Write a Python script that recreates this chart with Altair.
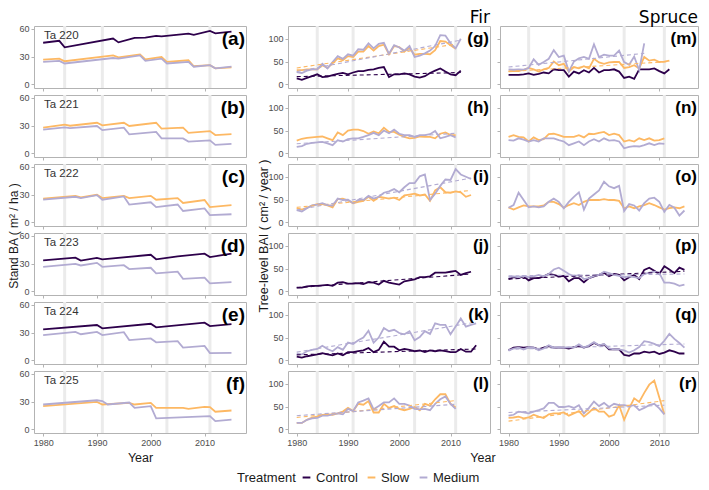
import altair as alt
import pandas as pd

TREATMENTS = ["Control", "Slow", "Medium"]
COLORS = ["#2d004b", "#fdb863", "#b2abd2"]
THIN_YEARS = [1984, 1991, 2003, 2011]
X_TICKS = [1980, 1990, 2000, 2010]
PLOT_NAMES = ["Ta 220", "Ta 221", "Ta 222", "Ta 223", "Ta 224", "Ta 225"]
TAGS1 = ["(a)", "(b)", "(c)", "(d)", "(e)", "(f)"]
TAGS2 = ["(g)", "(h)", "(i)", "(j)", "(k)", "(l)"]
TAGS3 = ["(m)", "(n)", "(o)", "(p)", "(q)", "(r)"]

# ---------------- Stand BA (breakpoints: year, value) ----------------
A_YRS_C = [1980, 1983, 1984, 1993, 1994, 1997, 1999, 2001, 2002, 2007, 2008, 2011, 2012, 2015]
A_CTRL = [44.9, 47.0, 40.0, 49.5, 45.3, 50.2, 50.5, 52.3, 51.8, 54.8, 53.4, 57.6, 55.0, 57.0]
A_YRS_T = [1980, 1983, 1984, 1993, 1994, 1998, 1999, 2002, 2003, 2007, 2008, 2011, 2012, 2015]
A_SLOW = [26.7, 27.7, 24.9, 31.2, 29.1, 32.3, 27.0, 29.5, 24.2, 26.0, 19.5, 20.7, 17.2, 18.3]
A_MED = [24.2, 25.3, 22.5, 28.4, 27.7, 31.2, 25.3, 27.7, 22.5, 24.2, 19.0, 20.7, 17.2, 19.0]

B_YRS = [1980, 1984, 1985, 1990, 1991, 1995, 1996, 2001, 2002, 2006, 2007, 2011, 2012, 2015]
B_SLOW = [27.7, 30.9, 29.8, 33.0, 30.2, 33.0, 29.5, 33.0, 26.7, 27.7, 22.1, 24.0, 19.7, 20.7]
B_MED = [25.6, 28.0, 27.3, 29.5, 25.0, 27.7, 20.4, 23.2, 16.1, 16.1, 12.6, 14.0, 9.1, 10.2]

C_YRS = [1980, 1986, 1987, 1990, 1991, 1995, 1996, 2000, 2001, 2005, 2006, 2010, 2011, 2015]
C_SLOW = [25.5, 28.6, 26.9, 29.7, 26.2, 28.6, 26.2, 28.6, 24.4, 26.2, 20.9, 24.1, 16.4, 18.5]
C_MED = [24.4, 27.6, 26.2, 29.3, 24.4, 27.9, 19.2, 21.6, 16.4, 19.2, 12.2, 15.0, 7.7, 8.7]

D_YRS_C = [1980, 1986, 1987, 1990, 1991, 2000, 2001, 2005, 2010, 2011, 2015]
D_CTRL = [33.5, 36.4, 33.2, 36.0, 34.6, 39.5, 34.6, 37.8, 40.6, 37.0, 40.6]
D_YRS_M = [1980, 1986, 1987, 1990, 1991, 1995, 1996, 2000, 2001, 2005, 2006, 2010, 2011, 2015]
D_MED = [26.5, 29.7, 27.9, 30.7, 26.5, 28.2, 24.0, 25.4, 19.4, 21.2, 13.4, 14.8, 8.5, 9.9]

E_YRS_C = [1980, 1990, 1991, 2000, 2001, 2010, 2011, 2015]
E_CTRL = [33.5, 38.1, 34.6, 39.5, 35.6, 40.6, 37.0, 39.2]
E_YRS_M = [1980, 1986, 1987, 1990, 1991, 1995, 1996, 2000, 2001, 2005, 2006, 2010, 2011, 2015]
E_MED = [27.2, 30.7, 28.2, 30.7, 27.2, 30.4, 21.9, 23.6, 19.4, 20.8, 13.8, 15.5, 7.8, 8.1]

F_YRS_S = [1980, 1990, 1991, 1996, 1997, 2000, 2001, 2006, 2007, 2010, 2011, 2012, 2015]
F_SLOW = [25.0, 29.6, 26.8, 28.6, 26.8, 28.6, 23.2, 23.2, 22.0, 24.3, 24.0, 19.0, 20.3]
F_YRS_M = [1980, 1990, 1991, 1992, 1996, 1997, 2000, 2001, 2011, 2012, 2015]
F_MED = [26.8, 31.4, 30.5, 26.8, 28.9, 23.2, 25.0, 11.8, 14.3, 8.9, 10.4]

# ---------------- Fir tree-level BAI (annual from 1980) ----------------
G_CTRL = [13, 10, 14, 18, 22, 16, 17, 20, 23, 25, 22, 26, 29, 29, 32, 33, 36, 38, 16, 22,
          22, 24, 22, 17, 15, 18, 25, 30, 35, 28, 22, 20, 30]
G_SLOW = [31, 31, 33, 33, 33, 42, 36, 46, 57, 53, 62, 60, 72, 72, 84, 74, 84, 87, 66, 84,
          82, 72, 80, 65, 67, 67, 66, 75, 95, 94, 86, 78]
G_MED = [27, 25, 30, 33, 33, 45, 35, 49, 62, 56, 66, 63, 77, 76, 90, 79, 89, 91, 67, 86,
         81, 74, 84, 60, 63, 68, 74, 84, 108, 107, 90, 79, 100]
H_SLOW = [28, 32, 34, 35, 36, 37, 33, 29, 46, 40, 50, 52, 52, 49, 43, 48, 44, 56, 47, 47,
          41, 36, 33, 34, 37, 36, 36, 33, 43, 46, 40, 40]
H_MED = [14, 16, 21, 23, 24, 25, 22, 18, 29, 26, 31, 33, 33, 36, 40, 45, 40, 50, 44, 52,
         43, 40, 40, 36, 40, 40, 42, 49, 33, 36, 40, 35]
I_SLOW = [31, 28, 32, 37, 40, 40, 37, 33, 51, 52, 48, 42, 45, 47, 56, 47, 56, 54, 52, 54,
          49, 59, 61, 63, 59, 61, 47, 70, 77, 66, 65, 68, 66, 56, 60]
I_MED = [27, 24, 31, 37, 39, 42, 38, 37, 52, 49, 50, 42, 49, 49, 58, 52, 56, 65, 68, 73,
         66, 77, 86, 86, 101, 105, 49, 63, 80, 94, 93, 117, 105, 100, 95]
J_CTRL = [8, 8, 11, 12, 12, 13, 14, 12, 19, 20, 17, 17, 18, 16, 20, 19, 15, 23, 19, 17,
          15, 22, 24, 26, 31, 31, 33, 41, 41, 41, 43, 45, 36, 40, 43]
K_CTRL = [8, 6, 9, 11, 13, 16, 13, 11, 15, 11, 18, 18, 20, 22, 27, 18, 23, 41, 30, 30,
          22, 25, 23, 20, 22, 18, 22, 20, 22, 20, 18, 18, 25, 19, 19, 33]
K_MED = [15, 13, 20, 23, 25, 32, 25, 20, 29, 23, 39, 36, 44, 50, 65, 39, 50, 71, 64, 67,
         60, 57, 64, 44, 51, 64, 58, 81, 78, 78, 57, 74, 92, 74, 78, 81]
L_SLOW = [14, 14, 21, 26, 28, 32, 33, 32, 35, 39, 47, 40, 56, 54, 62, 37, 37, 56, 47, 51,
          45, 42, 45, 49, 42, 56, 52, 66, 77, 77, 56, 48]
L_MED = [14, 14, 21, 24, 25, 30, 30, 33, 35, 33, 45, 40, 59, 63, 68, 44, 51, 59, 59, 68,
         56, 56, 52, 45, 44, 45, 42, 56, 66, 72, 56, 45]

# ---------------- Spruce tree-level BAI (annual from 1980) ----------------
M_CTRL = [21, 21, 21, 22, 24, 21, 23, 26, 24, 33, 31, 31, 17, 28, 24, 31, 26, 36, 26, 31,
          31, 33, 28, 14, 17, 12, 33, 33, 33, 35, 29, 24, 33]
M_SLOW = [29, 29, 29, 32, 36, 33, 28, 33, 36, 50, 42, 45, 28, 38, 35, 40, 35, 56, 48, 45,
          48, 49, 49, 36, 38, 42, 35, 60, 52, 54, 49, 50, 52]
M_MED = [33, 32, 33, 32, 36, 55, 43, 49, 56, 75, 60, 63, 28, 50, 57, 60, 56, 88, 60, 65,
         63, 63, 74, 49, 43, 61, 31, 90]
N_SLOW = [36, 40, 36, 35, 26, 35, 29, 31, 42, 43, 40, 36, 36, 36, 40, 35, 43, 42, 45, 47,
          40, 43, 40, 26, 29, 26, 33, 29, 33, 28, 29, 33]
N_MED = [29, 28, 33, 30, 26, 29, 26, 33, 33, 33, 29, 26, 18, 22, 26, 18, 26, 31, 26, 33,
         28, 29, 26, 11, 14, 16, 15, 18, 22, 18, 22, 21]
O_SLOW = [33, 28, 33, 37, 35, 35, 35, 37, 45, 45, 40, 32, 38, 42, 38, 45, 49, 49, 49, 51,
          49, 49, 47, 31, 35, 31, 35, 38, 42, 38, 33, 28, 31, 33, 31, 35]
O_MED = [32, 38, 65, 49, 33, 35, 33, 35, 45, 52, 45, 31, 45, 56, 66, 28, 52, 61, 70, 89,
         79, 75, 80, 25, 40, 37, 26, 42, 52, 54, 45, 23, 38, 32, 15, 26]
P_CTRL = [27, 31, 29, 33, 24, 29, 29, 33, 38, 36, 33, 34, 22, 29, 29, 20, 29, 33, 36, 41,
          33, 38, 36, 24, 31, 36, 27, 47, 52, 45, 38, 55, 48, 40, 52, 47]
P_MED = [31, 33, 31, 34, 31, 33, 36, 33, 38, 48, 52, 45, 38, 33, 36, 27, 29, 34, 36, 43,
         40, 36, 34, 31, 33, 31, 29, 38, 41, 43, 40, 19, 19, 17, 12, 15]
Q_CTRL = [22, 28, 29, 28, 29, 28, 24, 28, 31, 28, 28, 28, 26, 29, 31, 28, 31, 38, 33, 35,
          24, 24, 24, 12, 10, 15, 15, 19, 17, 19, 14, 17, 22, 19, 15, 15]
Q_MED = [21, 26, 28, 24, 29, 28, 22, 26, 33, 28, 29, 28, 29, 28, 35, 28, 33, 40, 33, 36,
         26, 24, 24, 22, 17, 22, 29, 42, 40, 36, 31, 43, 58, 47, 38, 28]
R_SLOW = [25, 26, 28, 24, 26, 32, 28, 25, 33, 35, 35, 37, 30, 35, 40, 28, 37, 47, 39, 39,
          28, 32, 53, 21, 46, 68, 60, 80, 98, 107, 70, 33]
R_MED = [30, 32, 39, 37, 35, 39, 42, 46, 58, 58, 49, 49, 51, 47, 53, 35, 47, 61, 51, 58,
         49, 56, 53, 53, 51, 53, 42, 47, 53, 56, 46, 33]

# ---------------- dashed trend lines: (treatment, [start, end year], [start, end value]) ----------------
TRENDS = {
    "g": [("Control", [1980, 2012], [17, 26]), ("Slow", [1980, 2011], [36, 88]), ("Medium", [1980, 2012], [28, 97])],
    "h": [("Medium", [1980, 2011], [21, 44])],
    "i": [("Slow", [1980, 2014], [33, 70]), ("Medium", [1980, 2014], [27, 97])],
    "j": [("Control", [1980, 2014], [8, 38])],
    "k": [("Control", [1980, 2015], [12, 25]), ("Medium", [1980, 2015], [18, 84])],
    "l": [("Slow", [1980, 2011], [26, 63]), ("Medium", [1980, 2011], [30, 55])],
    "m": [("Slow", [1980, 2012], [28, 50]), ("Medium", [1980, 2007], [38, 68])],
    "n": [],
    "o": [],
    "p": [("Control", [1980, 2015], [27, 44]), ("Medium", [1980, 2015], [34, 38])],
    "q": [("Medium", [1980, 2015], [24, 36])],
    "r": [("Slow", [1980, 2011], [18, 63]), ("Medium", [1980, 2011], [37, 53])],
}

W1, W2, W3 = 212, 202, 198
H = 62
VS = 1

XSCALE = alt.Scale(domain=[1978.3, 2017.7], nice=False, zero=False)

LEGEND = alt.Legend(
    title="Treatment", orient="none", legendX=203, legendY=445, direction="horizontal",
    titleOrient="left", titleFontSize=13, titleFontWeight="normal", titleColor="#1a1a1a",
    titleFont="Liberation Sans", labelFont="Liberation Sans", gridAlign="none",
    labelFontSize=13, labelColor="#1a1a1a", symbolType="stroke", symbolStrokeWidth=2,
    symbolSize=60, labelOffset=3, columnPadding=5, titlePadding=4,
)
COLOR = alt.Color("treatment:N", scale=alt.Scale(domain=TREATMENTS, range=COLORS), legend=LEGEND)


def annual(vals):
    return list(range(1980, 1980 + len(vals)))


def panel(col, series, trends, tag, ta=None, bottom=False, top=None):
    w = [W1, W2, W3][col]
    if col == 0:
        ydom, yt = [-4, 63], [0, 30, 60]
    else:
        ydom, yt = [-8, 128], [0, 50, 100]
    rows = []
    for tr, yrs, vals in series:
        rows += [{"treatment": tr, "year": yy, "value": v} for yy, v in zip(yrs, vals)]
    df = pd.DataFrame(rows)
    if bottom and col == 0:
        xax = alt.Axis(values=X_TICKS, labels=True, format="d", labelFlush=False, title="Year")
    else:
        xax = alt.Axis(values=X_TICKS, labels=bottom, format="d", labelFlush=False, title=None)
    yax = alt.Axis(values=yt, labels=(col != 2), title=None, labelFlush=False)
    x = alt.X("year:Q", scale=XSCALE, axis=xax)
    y = alt.Y("value:Q", scale=alt.Scale(domain=ydom, nice=False, zero=False), axis=yax)
    layers = [
        alt.Chart(pd.DataFrame({"year": THIN_YEARS})).mark_rule(color="#ebebeb", strokeWidth=3).encode(x=x),
        alt.Chart(df).mark_line(strokeWidth=1.8).encode(x=x, y=y, color=COLOR),
    ]
    if trends:
        trows = []
        for tr, yrs, vals in trends:
            trows += [{"treatment": tr, "year": yy, "value": v} for yy, v in zip(yrs, vals)]
        layers.append(
            alt.Chart(pd.DataFrame(trows)).mark_line(strokeWidth=1.1, strokeDash=[4, 3]).encode(x=x, y=y, color=COLOR)
        )
    layers.append(
        alt.Chart(pd.DataFrame({"t": [tag]})).mark_text(
            align="right", baseline="middle", fontSize=19 if col == 0 else 17, fontWeight="bold",
            font="Liberation Sans", color="black"
        ).encode(x=alt.value(w - 1), y=alt.value(13), text="t:N")
    )
    if ta:
        layers.append(
            alt.Chart(pd.DataFrame({"t": [ta]})).mark_text(
                align="left", baseline="middle", fontSize=11.5, font="Liberation Sans", color="#333333"
            ).encode(x=alt.value(10), y=alt.value(10), text="t:N")
        )
    ch = alt.layer(*layers).properties(width=w, height=H)
    if top is not None:
        ch = ch.properties(title=top)
    return ch


def top_title(text, color="black"):
    return alt.TitleParams(text, anchor="end", frame="group", fontSize=17, font="DejaVu Sans",
                           fontWeight="normal", offset=-2, color=color)


C, S, M = TREATMENTS
col1_series = [
    [(C, A_YRS_C, A_CTRL), (S, A_YRS_T, A_SLOW), (M, A_YRS_T, A_MED)],
    [(S, B_YRS, B_SLOW), (M, B_YRS, B_MED)],
    [(S, C_YRS, C_SLOW), (M, C_YRS, C_MED)],
    [(C, D_YRS_C, D_CTRL), (M, D_YRS_M, D_MED)],
    [(C, E_YRS_C, E_CTRL), (M, E_YRS_M, E_MED)],
    [(S, F_YRS_S, F_SLOW), (M, F_YRS_M, F_MED)],
]
col2_series = [
    [(C, annual(G_CTRL), G_CTRL), (S, annual(G_SLOW), G_SLOW), (M, annual(G_MED), G_MED)],
    [(S, annual(H_SLOW), H_SLOW), (M, annual(H_MED), H_MED)],
    [(S, annual(I_SLOW), I_SLOW), (M, annual(I_MED), I_MED)],
    [(C, annual(J_CTRL), J_CTRL)],
    [(C, annual(K_CTRL), K_CTRL), (M, annual(K_MED), K_MED)],
    [(S, annual(L_SLOW), L_SLOW), (M, annual(L_MED), L_MED)],
]
col3_series = [
    [(C, annual(M_CTRL), M_CTRL), (S, annual(M_SLOW), M_SLOW), (M, annual(M_MED), M_MED)],
    [(S, annual(N_SLOW), N_SLOW), (M, annual(N_MED), N_MED)],
    [(S, annual(O_SLOW), O_SLOW), (M, annual(O_MED), O_MED)],
    [(C, annual(P_CTRL), P_CTRL), (M, annual(P_MED), P_MED)],
    [(C, annual(Q_CTRL), Q_CTRL), (M, annual(Q_MED), Q_MED)],
    [(S, annual(R_SLOW), R_SLOW), (M, annual(R_MED), R_MED)],
]

p1, p2, p3 = [], [], []
for i in range(6):
    last = i == 5
    p1.append(panel(0, col1_series[i], [], TAGS1[i], ta=PLOT_NAMES[i], bottom=last,
                    top=top_title(" ", "white") if i == 0 else None))
    p2.append(panel(1, col2_series[i], TRENDS[TAGS2[i][1]], TAGS2[i], bottom=last,
                    top=top_title("Fir") if i == 0 else None))
    p3.append(panel(2, col3_series[i], TRENDS[TAGS3[i][1]], TAGS3[i], bottom=last,
                    top=top_title("Spruce") if i == 0 else None))

col1 = alt.vconcat(*p1, spacing=VS, title=alt.TitleParams(
    "Stand BA ( m² / ha )", orient="left", anchor="middle", fontSize=12, fontWeight="normal",
    font="Liberation Sans", offset=-3, color="#1a1a1a"))
col2 = alt.vconcat(*p2, spacing=VS)
col3 = alt.vconcat(*p3, spacing=VS)
right = alt.hconcat(col2, col3, spacing=5, title=alt.TitleParams(
    "Year", orient="bottom", anchor="middle", fontSize=12.5, fontWeight="normal",
    font="Liberation Sans", offset=4, color="#1a1a1a"))
right2 = alt.vconcat(right, title=alt.TitleParams(
    "Tree-level BAI ( cm² / year )", orient="left", anchor="middle", fontSize=12.5,
    fontWeight="normal", font="Liberation Sans", offset=-3, color="#1a1a1a"))

chart = alt.hconcat(col1, right2, spacing=10, padding=0).configure(
    font="Liberation Sans"
).configure_view(
    stroke="#b3b3b3", strokeWidth=1
).configure_axis(
    grid=False, domain=False, tickColor="#b3b3b3", tickSize=3, labelColor="#4d4d4d",
    labelFontSize=9, labelPadding=2, titleFontSize=12.5, titleFontWeight="normal",
    titleColor="#1a1a1a", titlePadding=4, labelFont="Liberation Sans", titleFont="Liberation Sans"
)

chart.save("out.html", embed_options={"renderer": "svg", "actions": False})
